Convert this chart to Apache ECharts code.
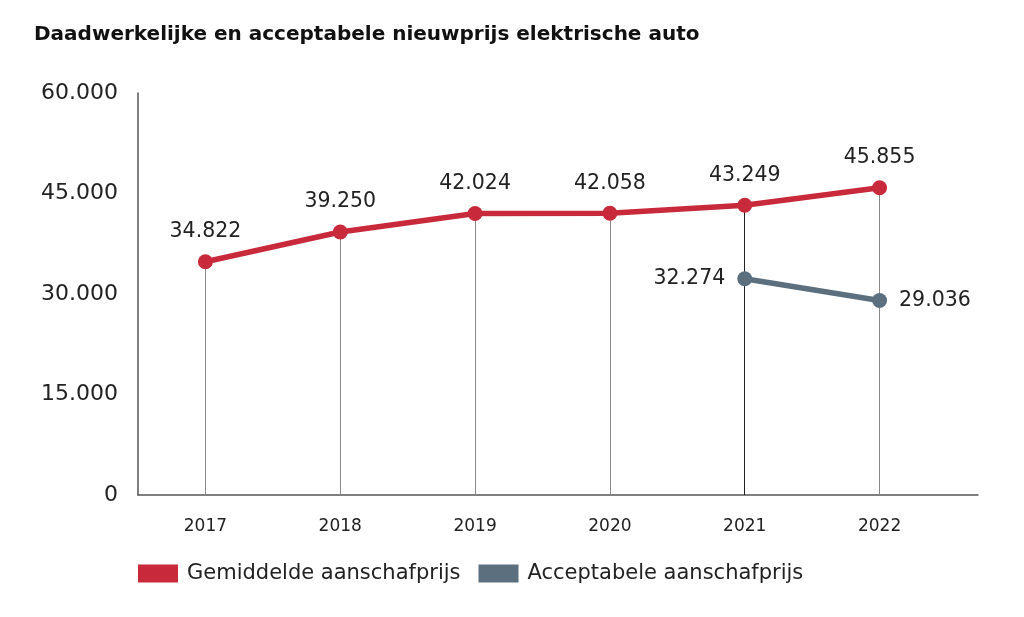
<!DOCTYPE html>
<html><head><meta charset="utf-8">
<script src="https://cdn.jsdelivr.net/npm/echarts@6/dist/echarts.min.js"></script>
<style>html,body{margin:0;padding:0;background:#fff}#c{width:1024px;height:617px}</style>
</head><body><div id="c"></div>
<script>
var title = 'Daadwerkelijke en acceptabele nieuwprijs elektrische auto';
var years = [2017, 2018, 2019, 2020, 2021, 2022];
var gemiddelde = [34822, 39250, 42024, 42058, 43249, 45855];
var acceptabeleYears = [2021, 2022];
var acceptabele = [32274, 29036];
var yTicks = [0, 15000, 30000, 45000, 60000];

var FONT = 'DejaVu Sans';
function fmt(v){ return String(v).replace(/\B(?=(\d{3})+(?!\d))/g, '.'); }

var red = '#c92a3b', blue = '#5b6f7f';
var chart = echarts.init(document.getElementById('c'));
chart.setOption({
  animation: false,
  title: { text: title, left: 29, top: 20, textStyle: { fontFamily: FONT, fontSize: 20, fontWeight: 'bold', color: '#111' } },
  grid: { left: 138, right: 46, top: 93, bottom: 122 },
  legend: {
    left: 133, top: 558, itemWidth: 40, itemHeight: 18, itemGap: 18,
    icon: 'rect',
    textStyle: { fontFamily: FONT, fontSize: 21, color: '#222', padding: [0, 0, 0, 4] },
    data: ['Gemiddelde aanschafprijs', 'Acceptabele aanschafprijs']
  },
  xAxis: {
    type: 'value', min: years[0] - 0.5, max: years[years.length - 1] + 0.73,
    axisLine: { show: true, lineStyle: { color: '#555', width: 1.5 } },
    axisTick: { show: false },
    splitLine: { show: false },
    axisLabel: { customValues: years, fontFamily: FONT, fontSize: 17, color: '#222', margin: 23, formatter: function(v){ return String(v); } }
  },
  yAxis: {
    type: 'value', min: 0, max: 60000, interval: 15000,
    axisLine: { show: true, lineStyle: { color: '#555', width: 1.5 } },
    axisTick: { show: false },
    splitLine: { show: false },
    axisLabel: { fontFamily: FONT, fontSize: 22, color: '#222', margin: 20, padding: [8, 0, 0, 0], formatter: function(v){ return fmt(v); } }
  },
  series: [
    {
      name: 'Gemiddelde aanschafprijs', type: 'line', z: 3,
      data: years.map(function(y, i){ return [y, gemiddelde[i]]; }),
      symbol: 'circle', symbolSize: 15,
      lineStyle: { color: red, width: 5.5 }, itemStyle: { color: red },
      label: { show: true, position: 'top', distance: 12, fontFamily: FONT, fontSize: 20.5, color: '#222', formatter: function(p){ return fmt(p.value[1]); } },
      markLine: {
        silent: true, symbol: 'none', z: 1,
        label: { show: false },
        lineStyle: { color: '#888', width: 1, type: 'solid' },
        data: years.map(function(y, i){
          var s = [{ coord: [y, 0] }, { coord: [y, gemiddelde[i]] }];
          if (y === acceptabeleYears[0]) { s[0].lineStyle = { color: '#222', width: 1 }; }
          return s;
        })
      }
    },
    {
      name: 'Acceptabele aanschafprijs', type: 'line', z: 4,
      data: acceptabeleYears.map(function(y, i){
        return { value: [y, acceptabele[i]], label: { position: i === 0 ? 'left' : 'right' } };
      }),
      symbol: 'circle', symbolSize: 15,
      lineStyle: { color: blue, width: 5.5 }, itemStyle: { color: blue },
      label: { show: true, distance: 12, fontFamily: FONT, fontSize: 20.5, color: '#222', formatter: function(p){ return fmt(p.value[1]); } }
    }
  ]
});
</script></body></html>
